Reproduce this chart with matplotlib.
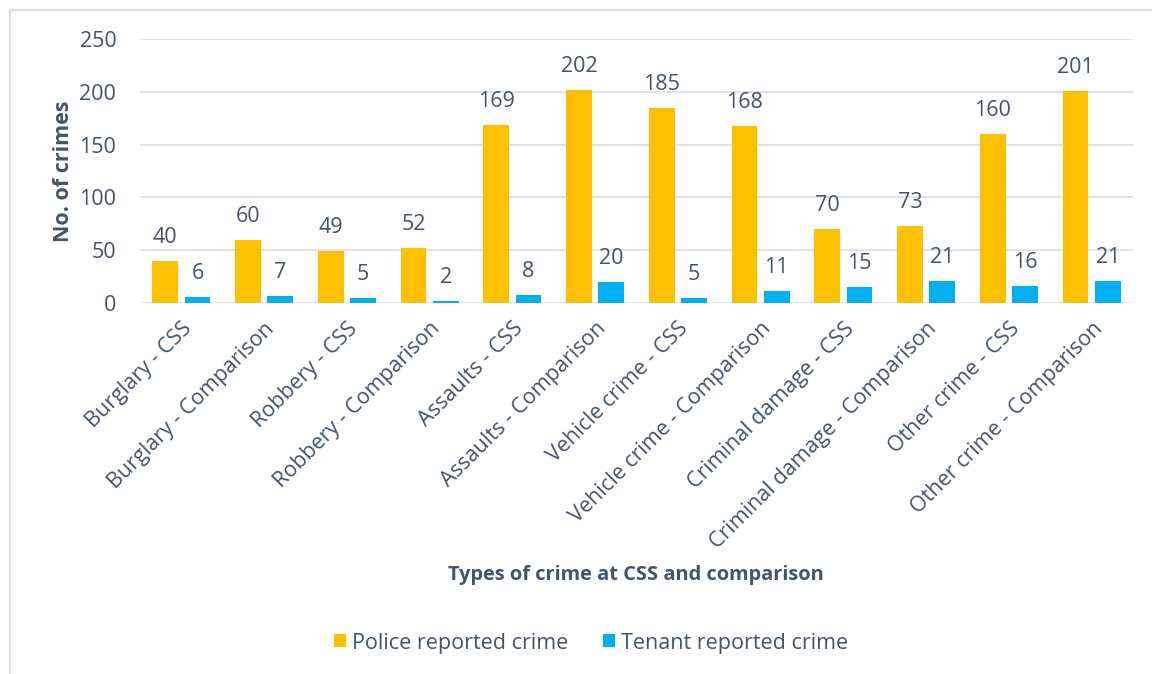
import numpy as np
import matplotlib.pyplot as plt
from matplotlib.patches import Rectangle

# categories and counts
categories = [
    'Burglary - CSS', 'Burglary - Comparison',
    'Robbery - CSS', 'Robbery - Comparison',
    'Assaults - CSS', 'Assaults - Comparison',
    'Vehicle crime - CSS', 'Vehicle crime - Comparison',
    'Criminal damage - CSS', 'Criminal damage - Comparison',
    'Other crime - CSS', 'Other crime - Comparison',
]
police = [40, 60, 49, 52, 169, 202, 185, 168, 70, 73, 160, 201]
tenant = [6, 7, 5, 2, 8, 20, 5, 11, 15, 21, 16, 21]

text_col = '#44546A'
yellow = '#FFC000'
blue = '#00B0F0'

plt.rcParams['font.family'] = ['Open Sans', 'DejaVu Sans']

fig = plt.figure(figsize=(11.52, 6.74), dpi=100)
ax = fig.add_axes([0.1215, 0.5504, 0.862, 0.3917])

# light frame round the chart
fig.patches.append(Rectangle((10 / 1152, -0.1), 1.2, 1 - 10 / 674 + 0.1,
                             transform=fig.transFigure, fill=False,
                             edgecolor='#DDE1E8', linewidth=1.5))

x = np.arange(len(categories))
w = 0.31
off = 0.195
b1 = ax.bar(x - off, police, w, color=yellow, label='Police reported crime', zorder=3)
b2 = ax.bar(x + off, tenant, w, color=blue, label='Tenant reported crime', zorder=3)

for bars, vals in ((b1, police), (b2, tenant)):
    for bar, v in zip(bars, vals):
        ax.annotate(str(v), (bar.get_x() + bar.get_width() / 2, v),
                    xytext=(0, 13), textcoords='offset points',
                    ha='center', va='baseline', fontsize=15.5, color=text_col)

ax.set_xlim(-0.5, len(categories) - 0.5)
ax.set_ylim(0, 250)
ax.set_yticks(range(0, 251, 50))
ax.grid(axis='y', color='#DDE1E8', linewidth=1.3, zorder=0)
for s in ax.spines.values():
    s.set_visible(False)
ax.tick_params(length=0, labelsize=15.5, labelcolor=text_col)
ax.tick_params(axis='y', pad=17)
ax.tick_params(axis='x', pad=11)
ax.set_xticks(x)
ax.set_xticklabels(categories, rotation=45, ha='right', rotation_mode='anchor')

ax.set_ylabel('No. of crimes', fontsize=15.5, fontweight='bold', color=text_col, labelpad=4)
fig.text(0.552, 1 - 575 / 674, 'Types of crime at CSS and comparison', ha='center',
         va='center', fontsize=14.4, fontweight='bold', color=text_col)

fig.legend(handles=[b1, b2], loc='center', bbox_to_anchor=(0.513, 1 - 643 / 674),
           ncol=2, frameon=False, fontsize=15.5, labelcolor=text_col,
           handlelength=0.55, handleheight=0.55, columnspacing=1.6, handletextpad=0.3)

fig.savefig('out.png', dpi=100, facecolor='white')
